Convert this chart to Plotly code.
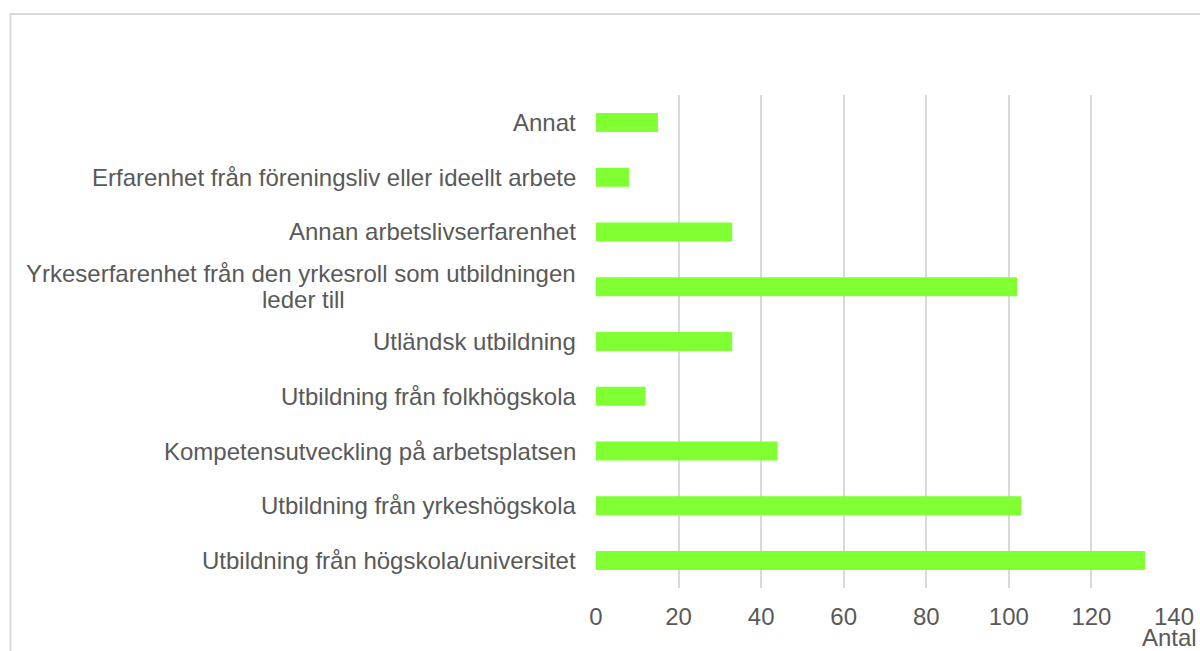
import plotly.graph_objects as go

categories = [
    "Annat",
    "Erfarenhet från föreningsliv eller ideellt arbete",
    "Annan arbetslivserfarenhet",
    "Yrkeserfarenhet från den yrkesroll som utbildningen<br>leder till",
    "Utländsk utbildning",
    "Utbildning från folkhögskola",
    "Kompetensutveckling på arbetsplatsen",
    "Utbildning från yrkeshögskola",
    "Utbildning från högskola/universitet",
]
values = [15, 8, 33, 102, 33, 12, 44, 103, 133]
x_ticks = [0, 20, 40, 60, 80, 100, 120, 140]
x_title = "Antal"

W, H = 1200, 651
ML, MR, MT, MB = 596, 26, 95, 63
PW, PH = W - ML - MR, H - MT - MB
FONT = "Liberation Sans, Arial, sans-serif"
TXT = "#595959"
GRID = "#d9d9d9"


def px_to_paper_x(px):
    return (px - ML) / PW


def px_to_paper_y(py):
    return (MT + PH - py) / PH


fig = go.Figure(go.Bar(
    y=categories, x=values, orientation="h",
    marker=dict(color="#80FF33", line=dict(width=0)),
    hoverinfo="x+y",
))

lab_font = dict(family=FONT, size=24, color=TXT)
annotations = []
for c in categories:
    lines = c.split("<br>")
    if len(lines) == 1:
        annotations.append(dict(
            x=0, xref="paper", y=c, yref="y", text=c, showarrow=False,
            xanchor="right", yanchor="middle", xshift=-18, font=lab_font,
        ))
    else:
        annotations.append(dict(
            x=0, xref="paper", y=c, yref="y", text=lines[0], showarrow=False,
            xanchor="right", yanchor="middle", xshift=-18, yshift=13, font=lab_font,
        ))
        annotations.append(dict(
            x=px_to_paper_x(303), xref="paper", y=c, yref="y", text=lines[1],
            showarrow=False, xanchor="center", yanchor="middle", yshift=-13,
            font=lab_font,
        ))
annotations.append(dict(
    x=px_to_paper_x(1199), xref="paper", y=px_to_paper_y(637), yref="paper",
    text=x_title, showarrow=False, xanchor="right", yanchor="middle",
    font=lab_font,
))

fig.update_layout(
    template="none",
    width=W, height=H, autosize=False,
    margin=dict(l=ML, r=MR, t=MT, b=MB, pad=0, autoexpand=False),
    paper_bgcolor="white", plot_bgcolor="white",
    showlegend=False,
    bargap=0.653,
    font=dict(family=FONT, size=24, color=TXT),
    xaxis=dict(
        range=[0, 140], tickvals=x_ticks, ticktext=[str(t) for t in x_ticks],
        showgrid=True, gridcolor=GRID, gridwidth=1.5, zeroline=False,
        showline=False, ticks="", ticklabelstandoff=12, automargin=False,
        tickfont=lab_font,
    ),
    yaxis=dict(
        autorange="reversed", showticklabels=False, showgrid=False,
        zeroline=False, showline=False, ticks="", automargin=False,
    ),
    annotations=annotations,
    shapes=[dict(
        type="rect", xref="paper", yref="paper",
        x0=px_to_paper_x(10.5), x1=1.3, y0=-0.3, y1=px_to_paper_y(14),
        line=dict(color=GRID, width=2), fillcolor="rgba(0,0,0,0)", layer="below",
    )],
)

fig.write_html(
    "out.html",
    config={"responsive": False, "displayModeBar": False},
    post_script="document.body.style.margin='0';document.body.style.overflow='hidden';",
)
